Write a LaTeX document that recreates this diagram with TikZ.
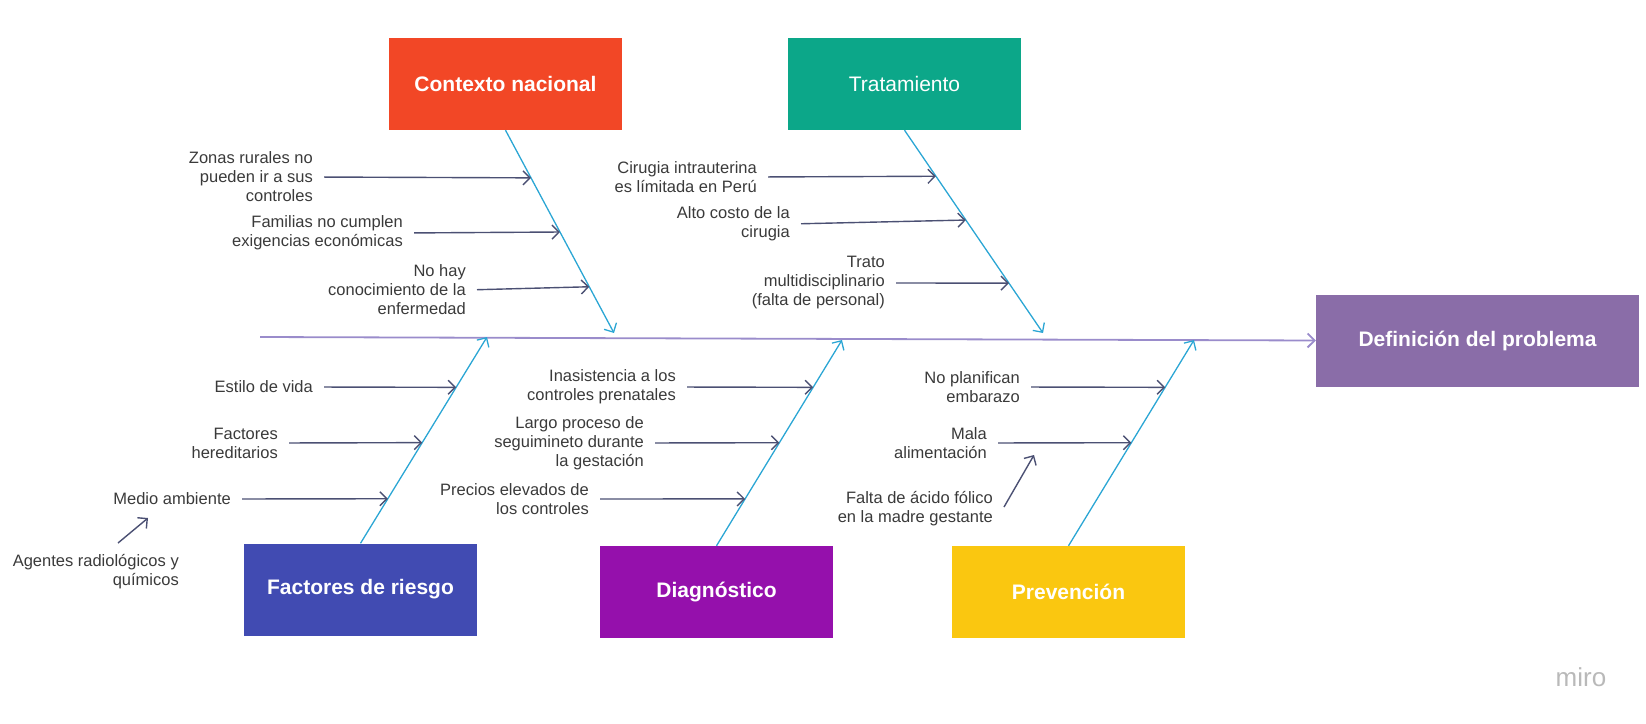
\documentclass[tikz,border=0pt]{standalone}
\usepackage{fontspec}
\setmainfont{Liberation Sans}
\usepackage{tikz}
\usetikzlibrary{calc,arrows.meta}
\definecolor{cnrojo}{HTML}{F24726}
\definecolor{trverde}{HTML}{0CA789}
\definecolor{frazul}{HTML}{414BB2}
\definecolor{dgmorado}{HTML}{9510AC}
\definecolor{pvamarillo}{HTML}{FAC710}
\definecolor{dflila}{HTML}{8A6DA8}
\definecolor{rama}{HTML}{2BA6D4}
\definecolor{espina}{HTML}{9A8CCB}
\definecolor{flecha}{HTML}{4B5073}
\definecolor{texto}{HTML}{3A3A3A}

\begin{document}
\begin{tikzpicture}[x=1pt,y=-1pt,
  >={Straight Barb[length=7pt,width=14pt]},
  caja/.style={minimum width=233pt,minimum height=92pt,inner sep=0pt,text=white,font=\fontsize{21}{25}\selectfont\bfseries},
  causa/.style={align=right,anchor=east,inner sep=0pt,text=texto,font=\fontsize{16.5}{19}\selectfont},
  flecha/.style={->,draw=flecha,line width=1.4pt,shorten <=11pt},
  rama/.style={->,draw=rama,line width=1.3pt}]
\useasboundingbox (0,0) rectangle (1646,723);
% categorias
\node[caja,fill=cnrojo] (cn) at (505.5,84) {Contexto nacional};
\node[caja,fill=trverde,font=\fontsize{21}{25}\selectfont] (tr) at (904.5,84) {Tratamiento};
\node[caja,fill=frazul] (fr) at (360.5,589.5) {Factores de riesgo};
\node[caja,fill=dgmorado] (dg) at (716.5,592) {Diagnóstico};
\node[caja,fill=pvamarillo] (pv) at (1068.5,592) {Prevención};
\node[caja,fill=dflila,minimum width=323pt] (df) at (1477.5,340.5) {Definición del problema};
% espina y ramas
\coordinate (sp) at (260,337);
\draw[->,draw=espina,line width=1.8pt] (sp) -- (df.west);
\coordinate (cnB) at (cn.south); \coordinate (cnT) at (614,333);
\coordinate (trB) at (tr.south); \coordinate (trT) at (1043,333);
\coordinate (frB) at (fr.north); \coordinate (frT) at (487,337);
\coordinate (dgB) at (dg.north); \coordinate (dgT) at (842,340);
\coordinate (pvB) at (pv.north); \coordinate (pvT) at (1194,340);
\foreach \r in {cn,tr,fr,dg,pv}
  \draw[rama] (\r B) -- (\r T);
% causas
\node[causa] (z1) at (313,177) {Zonas rurales no\\pueden ir a sus\\controles};
\node[causa] (z2) at (403,233) {Familias no cumplen\\exigencias económicas};
\node[causa] (z3) at (466,290) {No hay\\conocimiento de la\\enfermedad};
\node[causa] (t1) at (757,177) {Cirugia intrauterina\\es límitada en Perú};
\node[causa] (t2) at (790,224) {Alto costo de la\\cirugia};
\node[causa] (t3) at (885,283) {Trato\\multidisciplinario\\(falta de personal)};
\node[causa] (f1) at (313,387) {Estilo de vida};
\node[causa] (f2) at (278,443) {Factores\\hereditarios};
\node[causa] (f3) at (231,499) {Medio ambiente};
\node[causa] (ag) at (179,572) {Agentes radiológicos y\\químicos};
\node[causa] (d1) at (676,387) {Inasistencia a los\\controles prenatales};
\node[causa] (d2) at (644,443) {Largo proceso de\\seguimineto durante\\la gestación};
\node[causa] (d3) at (589,499) {Precios elevados de\\los controles};
\node[causa] (p1) at (1020,387) {No planifican\\embarazo};
\node[causa] (p2) at (987,443) {Mala\\alimentación};
\node[causa] (p3) at (993,509) {Falta de ácido fólico\\en la madre gestante};
\foreach \c/\r/\t in {z1/cn/0.235,z2/cn/0.502,z3/cn/0.772,t1/tr/0.227,t2/tr/0.443,t3/tr/0.754,
  f1/fr/0.756,f2/fr/0.488,f3/fr/0.216,d1/dg/0.770,d2/dg/0.501,d3/dg/0.228,p1/pv/0.770,p2/pv/0.501}
  \draw[flecha] (\c.east) -- ($(\r B)!\t!(\r T)$);
\coordinate (agA) at (118,543); \coordinate (agB) at (148,518);
\coordinate (p3A) at (1004,507); \coordinate (p3B) at (1034,455);
\draw[flecha,shorten <=0pt] (agA) -- (agB);
\draw[flecha,shorten <=0pt] (p3A) -- (p3B);
\node[text=gray!55,font=\fontsize{26}{30}\selectfont] (miro) at (1581,677) {miro};
\end{tikzpicture}
\end{document}
